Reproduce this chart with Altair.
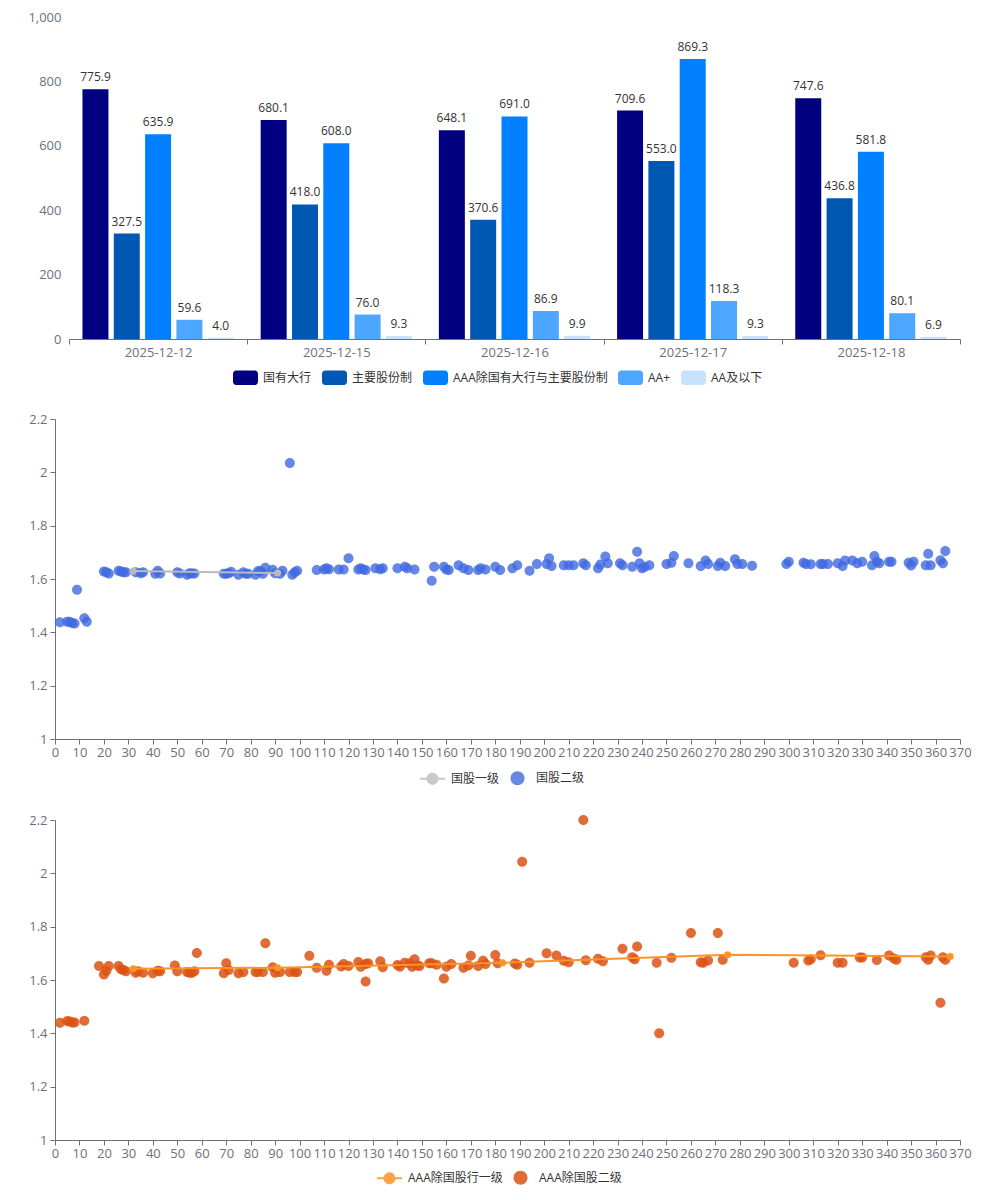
import altair as alt
import pandas as pd

FONT = '"Open Sans", "Noto Sans CJK SC", sans-serif'
AXIS_GRAY = "#6E7079"
TEXT = "#333333"

# ---------------- top: grouped bars ----------------
dates = ["2025-12-12", "2025-12-15", "2025-12-16", "2025-12-17", "2025-12-18"]
series_names = ["国有大行", "主要股份制", "AAA除国有大行与主要股份制", "AA+", "AA及以下"]
s_big = [775.9, 680.1, 648.1, 709.6, 747.6]
s_joint = [327.5, 418.0, 370.6, 553.0, 436.8]
s_aaa = [635.9, 608.0, 691.0, 869.3, 581.8]
s_aaplus = [59.6, 76.0, 86.9, 118.3, 80.1]
s_aa = [4.0, 9.3, 9.9, 9.3, 6.9]
bar_colors = ["#000080", "#0058B2", "#0080FF", "#4DA6FF", "#C6E2FF"]

rows = []
for name, vals in zip(series_names, [s_big, s_joint, s_aaa, s_aaplus, s_aa]):
    for d, v in zip(dates, vals):
        rows.append({"date": d, "series": name, "value": v})
bar_df = pd.DataFrame(rows)

# ---------------- middle: 国股 ----------------
gg1_x = [32, 91]
gg1_y = [1.63, 1.6225]
gg2_x = [2, 5, 6, 7, 8, 9, 12, 13,
         20, 21, 22, 26, 27, 28, 29, 33, 35, 36, 41, 42, 43, 50, 51,
         54, 55, 56, 57, 69, 70, 71, 72, 75, 77, 78, 79,
         82, 83, 84, 85, 86, 89, 90, 92, 93, 96, 97, 98, 99, 107, 111,
         110, 112, 116, 118, 120, 124, 125, 126, 127, 131, 133, 134,
         140, 143, 144, 147, 154, 155, 159, 160, 161, 165, 167, 169,
         173, 174, 176, 180, 182, 187, 189, 194, 197, 201, 202, 203,
         208, 210, 212, 216, 217, 222, 223, 225, 226, 231, 232,
         236, 238, 239, 240, 241, 243, 250, 252, 253, 259, 264, 266, 267,
         271, 272, 274, 278, 279, 281, 285, 299, 300, 306, 307, 309,
         313, 314, 316, 320, 322, 323, 326, 328, 330, 334, 335, 336, 337,
         341, 342, 349, 350, 351, 356, 357, 358, 362, 363, 364]
gg2_y = [1.438, 1.44, 1.44, 1.435, 1.433, 1.56, 1.453, 1.44,
         1.628, 1.625, 1.621, 1.631, 1.628, 1.625, 1.625, 1.625, 1.622, 1.625, 1.62, 1.631, 1.621, 1.625, 1.621,
         1.616, 1.622, 1.621, 1.621, 1.62, 1.62, 1.622, 1.627, 1.616, 1.625, 1.62, 1.62,
         1.616, 1.63, 1.63, 1.62, 1.642, 1.635, 1.622, 1.62, 1.631, 2.035, 1.616, 1.625, 1.631, 1.634, 1.64,
         1.636, 1.637, 1.636, 1.636, 1.678, 1.636, 1.64, 1.636, 1.634, 1.64, 1.637, 1.64,
         1.64, 1.646, 1.64, 1.636, 1.593, 1.646, 1.646, 1.636, 1.634, 1.652, 1.64, 1.634,
         1.634, 1.64, 1.636, 1.646, 1.634, 1.64, 1.652, 1.631, 1.656, 1.656, 1.678, 1.649,
         1.652, 1.652, 1.652, 1.659, 1.652, 1.64, 1.654, 1.684, 1.659, 1.659, 1.652,
         1.646, 1.702, 1.659, 1.64, 1.645, 1.652, 1.656, 1.661, 1.686, 1.659, 1.649, 1.669, 1.656,
         1.649, 1.661, 1.649, 1.674, 1.656, 1.656, 1.65, 1.656, 1.665, 1.661, 1.656, 1.655,
         1.656, 1.656, 1.656, 1.659, 1.649, 1.669, 1.669, 1.659, 1.665, 1.652, 1.686, 1.665, 1.659,
         1.665, 1.665, 1.661, 1.651, 1.665, 1.652, 1.695, 1.652, 1.67, 1.659, 1.705]

# ---------------- bottom: AAA除国股 ----------------
aaa1_x = [32, 91, 183, 275, 366]
aaa1_y = [1.6425, 1.646, 1.665, 1.695, 1.688]
aaa2_x = [2, 5, 6, 7, 8, 12,
          18, 20, 21, 22, 26, 27, 28, 29, 33, 34, 36, 40, 42, 43, 49, 50,
          54, 55, 56, 57, 58, 69, 70, 71, 75, 77, 82, 83, 85, 86, 89, 90, 92,
          96, 98, 99, 104, 107, 111, 112, 117, 118, 120, 124, 125, 127, 127, 128,
          133, 134, 140, 141, 143, 145, 146, 147, 148, 149, 153, 154, 156,
          159, 160, 162, 167, 169, 170, 173, 175, 176, 180, 181,
          188, 189, 191, 194, 201, 205, 208, 210, 216, 217, 222, 224,
          232, 236, 237, 238, 246, 247, 252, 260, 264, 265, 267, 271, 273,
          302, 308, 309, 313, 320, 322, 329, 330, 336, 341, 343, 344,
          356, 357, 358, 362, 363, 364]
aaa2_y = [1.44, 1.446, 1.444, 1.441, 1.441, 1.4475,
          1.6525, 1.621, 1.635, 1.6525, 1.6525, 1.64, 1.6375, 1.6325, 1.6275, 1.6325, 1.6275, 1.625, 1.635, 1.6325, 1.654, 1.6325,
          1.63, 1.6275, 1.6275, 1.6325, 1.701, 1.625, 1.6625, 1.6375, 1.625, 1.63, 1.63, 1.63, 1.63, 1.7375, 1.6475, 1.6275, 1.63,
          1.63, 1.63, 1.63, 1.691, 1.646, 1.635, 1.6575, 1.651, 1.66, 1.6525, 1.6675, 1.65, 1.594, 1.66, 1.6625,
          1.67, 1.6475, 1.656, 1.65, 1.665, 1.6625, 1.65, 1.6775, 1.654, 1.6525, 1.6625, 1.6625, 1.6575,
          1.606, 1.65, 1.66, 1.646, 1.654, 1.691, 1.6525, 1.6725, 1.66, 1.694, 1.6625,
          1.662, 1.657, 2.043, 1.665, 1.70, 1.692, 1.672, 1.667, 2.2, 1.674, 1.68, 1.67,
          1.7175, 1.685, 1.678, 1.726, 1.665, 1.4, 1.683, 1.776, 1.667, 1.665, 1.673, 1.776, 1.676,
          1.665, 1.673, 1.678, 1.693, 1.665, 1.665, 1.684, 1.684, 1.675, 1.692, 1.681, 1.676,
          1.685, 1.676, 1.692, 1.515, 1.685, 1.676]

# legend symbol paths (unit square -1..1)
ROUND_RECT = ("M-0.75,-0.58 L0.75,-0.58 A0.25,0.25 0 0 1 1,-0.33 L1,0.33 "
              "A0.25,0.25 0 0 1 0.75,0.58 L-0.75,0.58 A0.25,0.25 0 0 1 -1,0.33 "
              "L-1,-0.33 A0.25,0.25 0 0 1 -0.75,-0.58 Z")
LINE_DOT = ("M-1,-0.08 L-0.47,-0.08 L-0.47,0.08 L-1,0.08 Z "
            "M0.47,-0.08 L1,-0.08 L1,0.08 L0.47,0.08 Z "
            "M0.48,0 A0.48,0.48 0 1 1 -0.48,0 A0.48,0.48 0 1 1 0.48,0 Z")
DOT = "M0.56,0 A0.56,0.56 0 1 1 -0.56,0 A0.56,0.56 0 1 1 0.56,0 Z"

# ---------------- top chart ----------------
# all panels share a 905px plot area; the bar panel's band axis starts 14px in
x_bar = alt.X("date:N", sort=dates, title=None,
              scale=alt.Scale(paddingInner=0, paddingOuter=0, range=[14, 905]),
              axis=alt.Axis(labelAngle=0, tickBand="extent", tickSize=5, labelPadding=2,
                            domainColor=AXIS_GRAY, tickColor=AXIS_GRAY))
xo_bar = alt.XOffset("series:N", sort=series_names,
                     scale=alt.Scale(paddingInner=0.17, paddingOuter=0.43))
y_bar = alt.Y("value:Q", title=None,
              scale=alt.Scale(domain=[0, 1000], nice=False),
              axis=alt.Axis(values=[0, 200, 400, 600, 800, 1000], format=",.0f",
                            domain=False, ticks=False, labelPadding=8, offset=-14,
                            minExtent=42, maxExtent=42))
bar_legend = alt.Legend(orient="none", legendX=178, legendY=348, direction="horizontal",
                        columns=5, title=None, symbolType=ROUND_RECT, symbolSize=625,
                        symbolStrokeWidth=0, labelFont=FONT, labelFontSize=12,
                        labelColor=TEXT, labelOffset=5, columnPadding=10, padding=0)
c_bar = alt.Color("series:N", sort=series_names,
                  scale=alt.Scale(domain=series_names, range=bar_colors),
                  legend=bar_legend)

bars = alt.Chart(bar_df).mark_bar().encode(x=x_bar, xOffset=xo_bar, y=y_bar, color=c_bar)
bar_text = alt.Chart(bar_df).mark_text(baseline="bottom", dy=-5, fontSize=12,
                                       color=TEXT, font=FONT).encode(
    x=x_bar, xOffset=xo_bar, y=y_bar, text=alt.Text("value:Q", format=".1f"))
top = alt.layer(bars, bar_text).properties(width=905, height=322)


# ---------------- scatter charts ----------------
def scatter_panel(l_x, l_y, s_x, s_y, name1, name2, line_color, dot_color, dot_opacity,
                  legend_x, legend_y):
    d1 = pd.DataFrame({"x": l_x, "y": l_y, "series": name1})
    d2 = pd.DataFrame({"x": s_x, "y": s_y, "series": name2})
    X = alt.X("x:Q", title=None,
              scale=alt.Scale(domain=[0, 370], nice=False, zero=False),
              axis=alt.Axis(values=list(range(0, 371, 10)), labelOverlap=False,
                            labelFlush=False, tickSize=5, labelPadding=2,
                            domainColor=AXIS_GRAY, tickColor=AXIS_GRAY))
    Y = alt.Y("y:Q", title=None,
              scale=alt.Scale(domain=[1, 2.2], nice=False, zero=False),
              axis=alt.Axis(values=[1, 1.2, 1.4, 1.6, 1.8, 2, 2.2], format="~f",
                            tickSize=5, labelPadding=3, minExtent=42, maxExtent=42,
                            domainColor=AXIS_GRAY, tickColor=AXIS_GRAY))
    leg = alt.Legend(orient="none", legendX=legend_x, legendY=legend_y,
                     direction="horizontal", columns=2, title=None, symbolSize=625,
                     symbolStrokeWidth=0, labelFont=FONT, labelFontSize=12,
                     labelColor=TEXT, labelOffset=6, columnPadding=5, padding=0)
    color = alt.Color("series:N", scale=alt.Scale(domain=[name1, name2],
                                                  range=[line_color, dot_color]),
                      legend=leg)
    shape = alt.Shape("series:N", scale=alt.Scale(domain=[name1, name2],
                                                  range=[LINE_DOT, DOT]),
                      legend=leg)
    line = alt.Chart(d1).mark_line(color=line_color, strokeWidth=2).encode(x=X, y=Y)
    lpts = alt.Chart(d1).mark_circle(size=49, opacity=1).encode(x=X, y=Y, color=color)
    dots = alt.Chart(d2).mark_point(filled=True, size=319, opacity=dot_opacity,
                                    strokeWidth=0).encode(x=X, y=Y, color=color, shape=shape)
    return alt.layer(dots, line, lpts).properties(width=905, height=320)


mid = scatter_panel(gg1_x, gg1_y, gg2_x, gg2_y, "国股一级", "国股二级",
                    "#BBBBBB", "#4169E1", 0.8, 365, 346.5)
bot = scatter_panel(aaa1_x, aaa1_y, aaa2_x, aaa2_y, "AAA除国股行一级", "AAA除国股二级",
                    "#FF9326", "#DB5314", 0.85, 322, 345)

chart = alt.concat(top, mid, bot, columns=1, spacing=28, align="none").resolve_scale(
    color="independent", shape="independent", x="independent", y="independent"
).resolve_legend(color="independent", shape="independent").properties(
    padding={"left": 5, "top": 3, "right": 5, "bottom": 5}
).configure_axis(
    labelFont=FONT, labelFontSize=13, labelColor=AXIS_GRAY, grid=False
).configure_view(stroke=None)

chart.save("out.html", embed_options={"renderer": "svg", "actions": False})
